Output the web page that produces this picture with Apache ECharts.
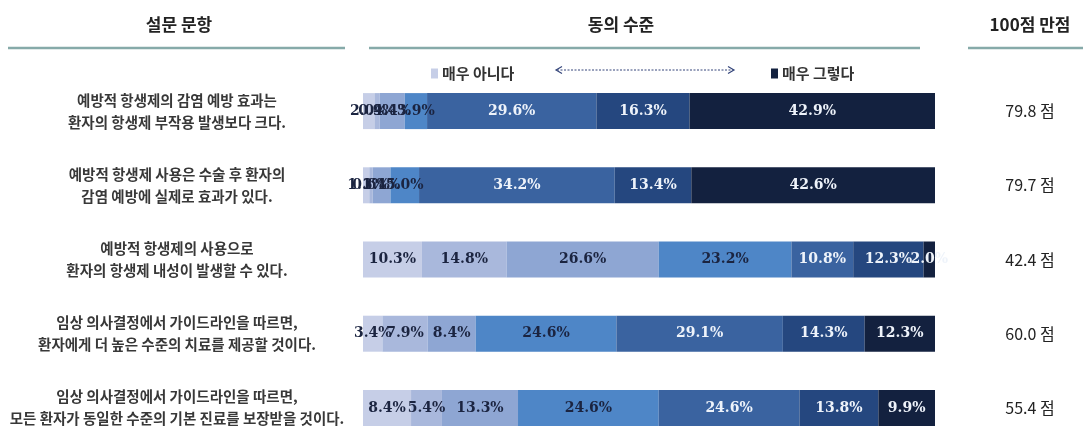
<!DOCTYPE html>
<html>
<head>
<meta charset="utf-8">
<script src="https://cdn.jsdelivr.net/npm/echarts@6/dist/echarts.min.js"></script>
<style>
html,body{margin:0;padding:0;background:#fff;}
#c{width:1083px;height:428px;}
</style>
</head>
<body>
<div id="c"></div>
<script>
const questions = [
  '예방적 항생제의 감염 예방 효과는\n환자의 항생제 부작용 발생보다 크다.',
  '예방적 항생제 사용은 수술 후 환자의\n감염 예방에 실제로 효과가 있다.',
  '예방적 항생제의 사용으로\n환자의 항생제 내성이 발생할 수 있다.',
  '임상 의사결정에서 가이드라인을 따르면,\n환자에게 더 높은 수준의 치료를 제공할 것이다.',
  '임상 의사결정에서 가이드라인을 따르면,\n모든 환자가 동일한 수준의 기본 진료를 보장받을 것이다.'
];
const levelNames = ['매우 아니다', '아니다', '약간 아니다', '보통', '약간 그렇다', '그렇다', '매우 그렇다'];
const level1 = [2.0, 1.1, 10.3, 3.4, 8.4];
const level2 = [0.9, 0.6, 14.8, 7.9, 5.4];
const level3 = [4.4, 3.1, 26.6, 8.4, 13.3];
const level4 = [3.9, 5.0, 23.2, 24.6, 24.6];
const level5 = [29.6, 34.2, 10.8, 29.1, 24.6];
const level6 = [16.3, 13.4, 12.3, 14.3, 13.8];
const level7 = [42.9, 42.6, 2.0, 12.3, 9.9];
const scores = [79.8, 79.7, 42.4, 60.0, 55.4];
const headers = ['설문 문항', '동의 수준', '100점 만점'];

const levels = [level1, level2, level3, level4, level5, level6, level7];
const colors = ['#c6cee7', '#a9b8dc', '#8ea6d3', '#4e86c7', '#3a63a0', '#25477f', '#13213f'];
const labelColors = ['#1b2440', '#1b2440', '#1b2440', '#1b2440', '#eef3fa', '#eef3fa', '#eef3fa'];

const chart = echarts.init(document.getElementById('c'), null, {renderer: 'canvas'});
const KR = '"Noto Sans CJK KR", "Noto Sans", sans-serif';

const series = levels.map((arr, i) => ({
  name: levelNames[i],
  type: 'bar',
  stack: 'total',
  barWidth: 36,
  data: arr,
  itemStyle: {color: colors[i]},
  label: {
    show: true,
    position: 'inside',
    formatter: p => p.value.toFixed(1) + '%',
    color: labelColors[i],
    fontFamily: '"DejaVu Serif", serif',
    fontWeight: 'bold',
    fontSize: 14
  },
  emphasis: {disabled: true}
}));

const lineStyle = {stroke: '#86aaa9', lineWidth: 2.5};
const headerFont = 'bold 17px ' + KR;
chart.setOption({
  animation: false,
  backgroundColor: '#fff',
  grid: {left: 363, width: 572, top: 74, height: 371, outerBoundsMode: 'none', containLabel: false},
  xAxis: {type: 'value', min: 0, max: 100, show: false},
  yAxis: [
    {
      type: 'category', inverse: true, data: questions,
      axisLine: {show: false}, axisTick: {show: false}, splitLine: {show: false},
      axisLabel: {margin: 186, align: 'center', fontFamily: KR, fontSize: 14.5, fontWeight: 'bold', lineHeight: 22, color: '#383838'}
    },
    {
      type: 'category', inverse: true, position: 'right',
      data: scores.map(s => s.toFixed(1) + ' 점'),
      axisLine: {show: false}, axisTick: {show: false}, splitLine: {show: false},
      axisLabel: {margin: 95, align: 'center', fontFamily: KR, fontSize: 16, color: '#222'}
    }
  ],
  legend: [
    {data: [levelNames[0]], left: 426, top: 61, icon: 'rect', itemWidth: 7, itemHeight: 10, itemGap: 4,
     textStyle: {fontFamily: KR, fontSize: 15, fontWeight: 'bold', color: '#333', padding: [0, 0, 0, -1]}},
    {data: [levelNames[6]], left: 766, top: 61, icon: 'rect', itemWidth: 7, itemHeight: 10, itemGap: 4,
     textStyle: {fontFamily: KR, fontSize: 15, fontWeight: 'bold', color: '#333', padding: [0, 0, 0, -1]}}
  ],
  graphic: [
    {type: 'text', x: 179, y: 25, style: {text: headers[0], font: headerFont, fill: '#222', align: 'center', verticalAlign: 'middle'}},
    {type: 'text', x: 621, y: 25, style: {text: headers[1], font: headerFont, fill: '#222', align: 'center', verticalAlign: 'middle'}},
    {type: 'text', x: 1030, y: 25, style: {text: headers[2], font: headerFont, fill: '#222', align: 'center', verticalAlign: 'middle'}},
    {type: 'line', shape: {x1: 8, y1: 48, x2: 345, y2: 48}, style: lineStyle},
    {type: 'line', shape: {x1: 369, y1: 48, x2: 920, y2: 48}, style: lineStyle},
    {type: 'line', shape: {x1: 968, y1: 48, x2: 1083, y2: 48}, style: lineStyle},
    {type: 'line', shape: {x1: 557, y1: 70, x2: 733, y2: 70}, style: {stroke: '#34457a', lineWidth: 1, lineDash: [2, 1.5]}},
    {type: 'polyline', shape: {points: [[562, 66.5], [556, 70], [562, 73.5]]}, style: {stroke: '#34457a', lineWidth: 1.2, fill: null}},
    {type: 'polyline', shape: {points: [[728, 66.5], [734, 70], [728, 73.5]]}, style: {stroke: '#34457a', lineWidth: 1.2, fill: null}}
  ],
  series: series
});
</script>
</body>
</html>
